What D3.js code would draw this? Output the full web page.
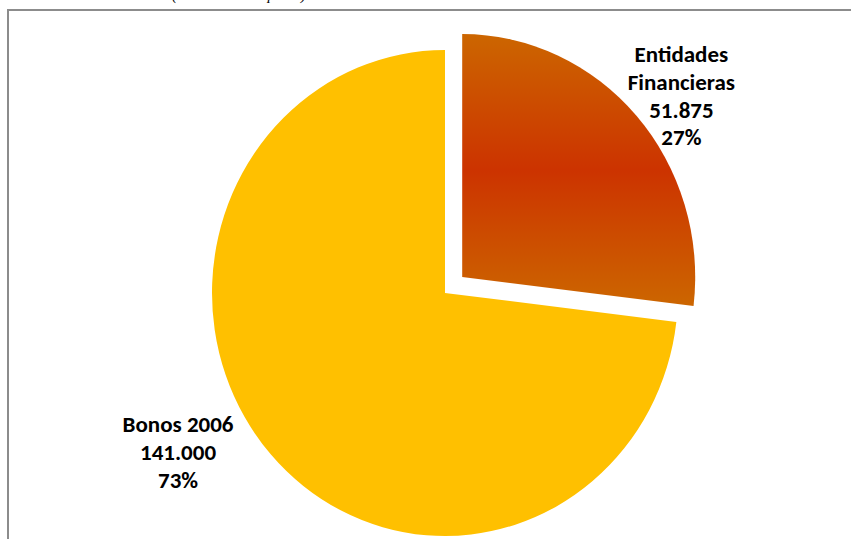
<!DOCTYPE html>
<html>
<head>
<meta charset="utf-8">
<script src="https://cdn.jsdelivr.net/npm/d3@7"></script>
<style>
  html, body { margin: 0; padding: 0; background: #fff; }
  svg { display: block; }
</style>
</head>
<body>
<svg id="chart" width="851" height="539"></svg>
<script>
// ---- data ----
const categories = ["Entidades Financieras", "Bonos 2006"];
const labelLines = [["Entidades", "Financieras"], ["Bonos 2006"]];
const values = [51.875, 141.000];
const valueLabels = ["51.875", "141.000"];
const percentLabels = ["27%", "73%"];
const titleText = "(en millones de pesos)";

// ---- layout ----
const W = 851, H = 539;
const cx = 445, cy = 293;
const R = 233;
const yScale = 1.043;
const explode = 23;

const svg = d3.select("#chart");

// gradient for exploded slice
const defs = svg.append("defs");
const grad = defs.append("linearGradient")
  .attr("id", "gOrange").attr("x1", 0).attr("y1", 0).attr("x2", 0).attr("y2", 1);
grad.append("stop").attr("offset", "0%").attr("stop-color", "#CC6600");
grad.append("stop").attr("offset", "50%").attr("stop-color", "#CC3300");
grad.append("stop").attr("offset", "100%").attr("stop-color", "#CC6600");

// title (mostly above the visible area, as in the reference)
svg.append("text")
  .attr("x", 172).attr("y", 0)
  .attr("font-family", "'Liberation Serif', 'DejaVu Serif', serif")
  .attr("font-style", "italic")
  .attr("font-size", 15)
  .attr("fill", "#000")
  .text(titleText);

// frame
svg.append("rect")
  .attr("x", 8).attr("y", 10).attr("width", 860).attr("height", 560)
  .attr("fill", "none").attr("stroke", "#8C8C8C").attr("stroke-width", 2);

const pie = d3.pie().sort(null).value(d => d)(values);
const arc = d3.arc().innerRadius(0).outerRadius(R);
const fills = ["url(#gOrange)", "#FFC000"];
const exploded = [true, false];

const g = svg.append("g").attr("transform", `translate(${cx},${cy}) scale(1,${yScale})`);

g.selectAll("path")
  .data(pie)
  .join("path")
  .attr("d", arc)
  .attr("fill", (d, i) => fills[i])
  .attr("transform", (d, i) => {
    if (!exploded[i]) return null;
    const a = (d.startAngle + d.endAngle) / 2;
    return `translate(${explode * Math.sin(a)},${-explode * Math.cos(a)})`;
  });

// labels: placed outside slices
const labelPos = [
  { r: 304, da: 0.046, y0: 62 },
  { r: 300, da: 0.252, y0: 432 }
];
const lineH = 27.8;

pie.forEach((d, i) => {
  const a = (d.startAngle + d.endAngle) / 2 + labelPos[i].da;
  const lx = cx + labelPos[i].r * Math.sin(a);
  const lines = labelLines[i].concat([valueLabels[i], percentLabels[i]]);
  const t = svg.append("text")
    .attr("text-anchor", "middle")
    .attr("font-family", "Carlito, Calibri, Lato, 'Open Sans', sans-serif")
    .attr("font-weight", "bold")
    .attr("font-size", 23)
    .attr("fill", "#000");
  lines.forEach((s, k) => {
    t.append("tspan").attr("x", lx).attr("y", labelPos[i].y0 + k * lineH).text(s);
  });
});
</script>
</body>
</html>
